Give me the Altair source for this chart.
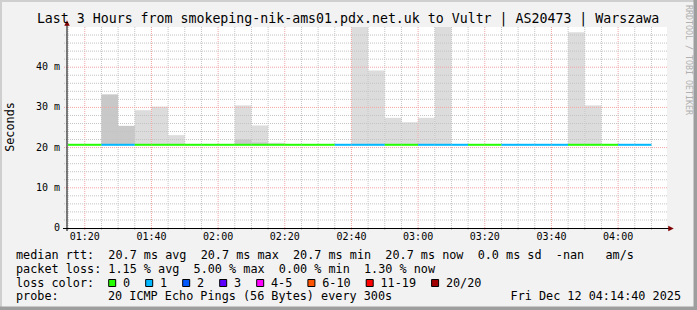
import altair as alt
import pandas as pd

# ---------------- data ----------------
interval_start = ["01:15", "01:20", "01:25", "01:30", "01:35", "01:40", "01:45", "01:50", "01:55",
                  "02:00", "02:05", "02:10", "02:15", "02:20", "02:25", "02:30", "02:35", "02:40",
                  "02:45", "02:50", "02:55", "03:00", "03:05", "03:10", "03:15", "03:20", "03:25",
                  "03:30", "03:35", "03:40", "03:45", "03:50", "03:55", "04:00", "04:05"]
median_ms = [20.7, 20.7, 20.7, 20.7, 20.7, 20.7, 20.7, 20.7, 20.7, 20.7, 20.7, 20.7, 20.7, 20.7,
             20.7, 20.7, 20.7, 20.7, 20.7, 20.7, 20.7, 20.7, 20.7, 20.7, 20.7, 20.7, 20.7, 20.7,
             20.7, 20.7, 20.7, 20.7, 20.7, 20.7, 20.7]
lost_pings = [0, 0, 1, 1, 0, 0, 0, 0, 0, 0, 0, 0, 0, 0, 0, 0, 1, 1, 1, 0, 0, 1, 1, 1, 0, 0,
              1, 1, 1, 1, 0, 0, 0, 1, 1]
smoke_max_ms = [None, None, 33.2, 25.4, 29.3, 30.2, 23.1, None, None, None, 30.5, 25.5, 21.2,
                None, None, None, None, 60.0, 39.2, 27.4, 26.3, 27.4, 60.0, None, None, None,
                None, None, None, None, 48.7, 30.5, None, None, None]
smoke_dense_ms = [None, None, 33.2, 25.4, None, None, None, None, None, None, 22.0, 21.3, None,
                  None, None, None, None, None, None, None, None, None, None, None, None, None,
                  None, None, None, None, None, None, None, None, None]

loss_labels = ["0", "1", "2", "3", "4-5", "6-10", "11-19", "20/20"]
loss_colors = ["#26ff00", "#00b8ff", "#0059ff", "#5e00ff", "#ff00ff", "#ff5500", "#ff0000", "#a10000"]

y_ticks = [0, 10, 20, 30, 40]
y_tick_labels = ["0\u00a0\u00a0", "10 m", "20 m", "30 m", "40 m"]
x_tick_labels = ["01:20", "01:40", "02:00", "02:20", "02:40", "03:00", "03:20", "03:40", "04:00"]

title = "Last 3 Hours from smokeping-nik-ams01.pdx.net.uk to Vultr | AS20473 | Warszawa"
legend_rtt = "median rtt:  20.7 ms avg  20.7 ms max  20.7 ms min  20.7 ms now  0.0 ms sd  -nan   am/s"
legend_loss = "packet loss: 1.15 % avg  5.00 % max  0.00 % min  1.30 % now"
probe_txt = "20 ICMP Echo Pings (56 Bytes) every 300s"
stamp = "Fri Dec 12 04:14:40 2025"

# ---------------- helpers ----------------
def to_min(s):
    h, m = s.split(":")
    return int(h) * 60 + int(m)

def loss_cat(n):
    if n <= 3:
        return str(n)
    if n <= 5:
        return "4-5"
    if n <= 10:
        return "6-10"
    if n <= 19:
        return "11-19"
    return "20/20"

L, T = 67, 27            # plot origin in page pixels
W, H = 600, 201          # plot size
X0 = 74 + 40 / 60        # 01:14:40
X1 = 254 + 40 / 60       # 04:14:40
FONT = "DejaVu Sans Mono"

xs = alt.Scale(domain=[X0, X1], nice=False, zero=False)
ys = alt.Scale(domain=[0, 50], nice=False, zero=True)

df = pd.DataFrame({
    "start": [to_min(t) for t in interval_start],
    "median": median_ms,
    "loss": [loss_cat(n) for n in lost_pings],
    "smax": smoke_max_ms,
    "sdense": smoke_dense_ms,
})
df["end"] = df["start"] + 5

minor_x = pd.DataFrame({"x": [m for m in range(75, 255, 5) if m % 20 != 0]})
major_x = pd.DataFrame({"x": [to_min(t) for t in x_tick_labels], "lab": x_tick_labels})
minor_y = pd.DataFrame({"y": [v for v in range(2, 50, 2) if v % 10 != 0]})
major_y = pd.DataFrame({"y": [10, 20, 30, 40]})
ylab = pd.DataFrame({"y": y_ticks, "lab": y_tick_labels})

GRID = "#c4c4c4"
MGRID = "#f4a4a4"

layers = []

# smoke
smoke = df.dropna(subset=["smax"])
layers.append(alt.Chart(smoke).mark_rect(color="#dcdcdc", clip=True).encode(
    x=alt.X("start:Q", scale=xs, axis=None), x2="end:Q",
    y=alt.Y("median:Q", scale=ys, axis=None), y2="smax:Q"))
dense = df.dropna(subset=["sdense"])
layers.append(alt.Chart(dense).mark_rect(color="#c8c8c8", clip=True).encode(
    x=alt.X("start:Q", scale=xs, axis=None), x2="end:Q",
    y=alt.Y("median:Q", scale=ys, axis=None), y2="sdense:Q"))

# grid
layers.append(alt.Chart(minor_x).mark_rule(color=GRID, strokeDash=[1, 1], strokeWidth=1).encode(
    x=alt.X("x:Q", scale=xs, axis=None), y=alt.value(0), y2=alt.value(H + 3)))
layers.append(alt.Chart(major_x).mark_rule(color=MGRID, strokeDash=[1, 1], strokeWidth=1).encode(
    x=alt.X("x:Q", scale=xs, axis=None), y=alt.value(0), y2=alt.value(H + 3)))
layers.append(alt.Chart(minor_y).mark_rule(color=GRID, strokeDash=[1, 1], strokeWidth=1).encode(
    y=alt.Y("y:Q", scale=ys, axis=None), x=alt.value(-3), x2=alt.value(W)))
layers.append(alt.Chart(major_y).mark_rule(color=MGRID, strokeDash=[1, 1], strokeWidth=1).encode(
    y=alt.Y("y:Q", scale=ys, axis=None), x=alt.value(-3), x2=alt.value(W)))

# median line coloured by loss
layers.append(alt.Chart(df).mark_rule(strokeWidth=2).encode(
    x=alt.X("start:Q", scale=xs, axis=None), x2="end:Q",
    y=alt.Y("median:Q", scale=ys, axis=None),
    color=alt.Color("loss:N", scale=alt.Scale(domain=loss_labels, range=loss_colors), legend=None)))

# axis lines and arrows
layers.append(alt.Chart(pd.DataFrame({"a": [0]})).mark_rule(color="#000000", strokeWidth=1).encode(
    x=alt.value(0), y=alt.value(-5), y2=alt.value(H + 3)))
layers.append(alt.Chart(pd.DataFrame({"a": [0]})).mark_rule(color="#000000", strokeWidth=1).encode(
    y=alt.value(H + 0.5), x=alt.value(-4), x2=alt.value(W + 3)))
layers.append(alt.Chart(pd.DataFrame({"a": [0]})).mark_point(
    shape="M0,-1L-1,1L1,1Z", filled=True, color="#7f0000", size=30, opacity=1).encode(
    x=alt.value(0), y=alt.value(-4)))
layers.append(alt.Chart(pd.DataFrame({"a": [0]})).mark_point(
    shape="M1,0L-1,-1L-1,1Z", filled=True, color="#7f0000", size=30, opacity=1).encode(
    x=alt.value(W + 4), y=alt.value(H + 0.5)))

# axis labels
layers.append(alt.Chart(ylab).mark_text(align="right", baseline="middle", font=FONT, fontSize=10,
                                        color="#000000").encode(
    y=alt.Y("y:Q", scale=ys, axis=None), x=alt.value(-7), text="lab:N"))
layers.append(alt.Chart(major_x).mark_text(align="center", baseline="middle", font=FONT, fontSize=10,
                                           color="#000000").encode(
    x=alt.X("x:Q", scale=xs, axis=None), y=alt.value(237 - T), text="lab:N"))

def txt(s, x, y, size=11.8, align="left", angle=0, color="#000000"):
    return alt.Chart(pd.DataFrame({"s": [s.replace(" ", "\u00a0")]})).mark_text(
        align=align, baseline="middle", font=FONT, fontSize=size, color=color, angle=angle).encode(
        text="s:N", x=alt.value(x - L), y=alt.value(y - T))

layers.append(txt(title, 348, 18.5, size=13.25, align="center"))
layers.append(txt("Seconds", 10, 127, angle=270, align="center"))
layers.append(txt("RRDTOOL / TOBI OETIKER", 687.5, 60, size=8.3, angle=90, align="center", color="#b0b0b0"))
layers.append(txt(legend_rtt, 16, 255))
layers.append(txt(legend_loss, 16, 268.5))
layers.append(txt("loss color:", 16, 282.5))
layers.append(txt("probe:", 16, 296))
layers.append(txt(probe_txt, 108, 296))
layers.append(txt(stamp, 681, 296, align="right"))

# loss colour legend boxes
CW = 7.1
bx = 108.0
box_rows = []
for lab, col in zip(loss_labels, loss_colors):
    box_rows.append({"bx": bx + 4.2 - L, "tx": bx + 15 - L, "lab": lab, "col": col})
    bx = bx + 15 + CW * len(lab) + 14.9
boxes = pd.DataFrame(box_rows)
for r in box_rows:
    layers.append(alt.Chart(pd.DataFrame([r])).mark_square(
        size=49, fill=r["col"], stroke="#000000", strokeWidth=1, opacity=1).encode(
        x=alt.value(r["bx"]), y=alt.value(283 - T)))
    layers.append(alt.Chart(pd.DataFrame([r])).mark_text(
        align="left", baseline="middle", font=FONT, fontSize=11.8, color="#000000").encode(
        text="lab:N", x=alt.value(r["tx"]), y=alt.value(282.5 - T)))

# frame
fr = pd.DataFrame({"a": [0]})
layers.append(alt.Chart(fr).mark_rule(color="#cfcfcf", strokeWidth=2).encode(
    y=alt.value(1 - T), x=alt.value(-L), x2=alt.value(697 - L)))
layers.append(alt.Chart(fr).mark_rule(color="#cfcfcf", strokeWidth=2).encode(
    x=alt.value(1 - L), y=alt.value(-T), y2=alt.value(310 - T)))
layers.append(alt.Chart(fr).mark_rule(color="#9e9e9e", strokeWidth=3.5).encode(
    x=alt.value(695.25 - L), y=alt.value(-T), y2=alt.value(310 - T)))
layers.append(alt.Chart(fr).mark_rule(color="#9e9e9e", strokeWidth=3.5).encode(
    y=alt.value(308.25 - T), x=alt.value(-L), x2=alt.value(697 - L)))

chart = alt.layer(*layers).properties(
    width=W, height=H,
    autosize=alt.AutoSizeParams(type="none"),
    padding={"left": L, "top": T, "right": 697 - L - W, "bottom": 310 - T - H},
).configure(background="#f2f2f2").configure_view(fill="#ffffff", stroke=None)

chart.save("out.html", embed_options={"renderer": "svg", "actions": False})
